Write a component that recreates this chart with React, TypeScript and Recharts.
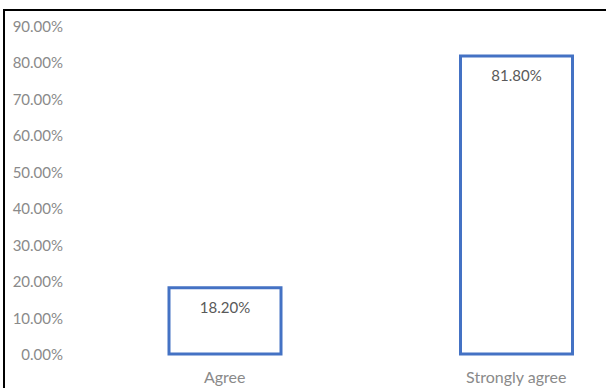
import { BarChart, Bar, XAxis, YAxis, LabelList } from 'recharts'

// Likert responses, share of respondents
const categories = ['Agree', 'Strongly agree']
const shares = [0.182, 0.818]
const yTicks = [0, 0.1, 0.2, 0.3, 0.4, 0.5, 0.6, 0.7, 0.8, 0.9]

const data = categories.map((label, i) => ({ label, share: shares[i] }))

const pct = (v: number) => `${(v * 100).toFixed(2)}%`

const FONT = 'Lato, "Open Sans", sans-serif'
const AXIS_GREY = '#8a8a8a'

function YTick({ x, y, payload }: any) {
  return (
    <text x={x} y={y} textAnchor="end" dominantBaseline="central" fill={AXIS_GREY} fontSize={15} fontFamily={FONT}>
      {pct(payload.value)}
    </text>
  )
}

function XTick({ x, y, payload }: any) {
  return (
    <text x={x} y={y + 22} textAnchor="middle" dominantBaseline="central" fill={AXIS_GREY} fontSize={16} fontFamily={FONT}>
      {payload.value}
    </text>
  )
}

function BarLabel({ x, y, width, value }: any) {
  return (
    <text x={x + width / 2} y={y + 19} textAnchor="middle" dominantBaseline="central" fill="#595959" fontSize={15} fontFamily={FONT}>
      {pct(value)}
    </text>
  )
}

export default function App() {
  return (
    <div style={{ position: 'absolute', left: 0, top: 0, width: 606, height: 388, overflow: 'hidden', background: '#fff' }}>
      <div
        style={{
          position: 'absolute',
          left: 3,
          top: 9,
          width: 700,
          height: 400,
          borderTop: '2px solid #000',
          borderLeft: '2px solid #000',
        }}
      />
      <div style={{ position: 'absolute', left: 0, top: 0 }}>
        <BarChart width={670} height={388} data={data} margin={{ top: 26, right: 8, left: 0, bottom: 0 }}>
          <XAxis dataKey="label" axisLine={false} tickLine={false} tickSize={0} tickMargin={0} height={34} tick={<XTick />} />
          <YAxis
            domain={[0, 0.9]}
            ticks={yTicks}
            axisLine={false}
            tickLine={false}
            tickSize={0}
            tickMargin={16}
            width={79}
            tick={<YTick />}
          />
          <Bar dataKey="share" fill="#fff" stroke="#4472C4" strokeWidth={3} barSize={112} isAnimationActive={false}>
            <LabelList dataKey="share" content={<BarLabel />} />
          </Bar>
        </BarChart>
      </div>
    </div>
  )
}
